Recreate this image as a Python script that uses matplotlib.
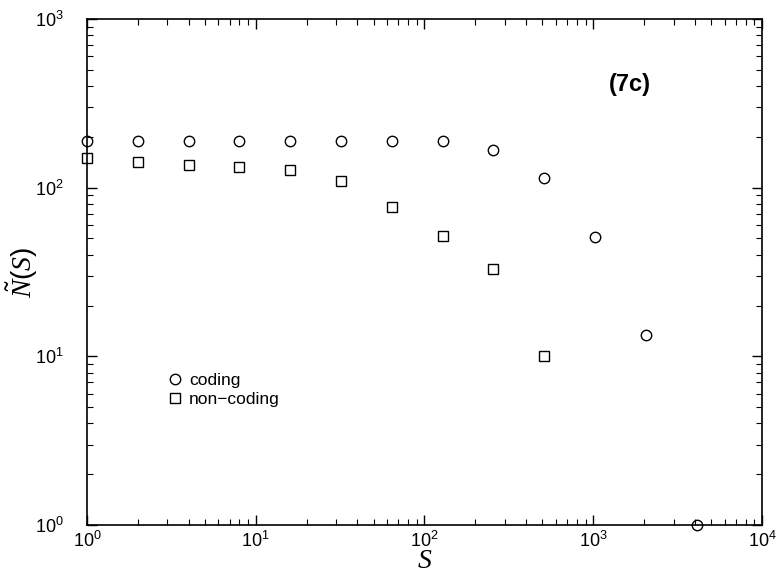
import numpy as np
import matplotlib.pyplot as plt
from matplotlib.ticker import LogLocator, FuncFormatter, NullFormatter

plt.rcParams['font.family'] = ['Liberation Sans', 'DejaVu Sans']
plt.rcParams['mathtext.fontset'] = 'custom'
plt.rcParams['mathtext.rm'] = 'Liberation Sans'
plt.rcParams['mathtext.it'] = 'Liberation Serif:italic'

# box sizes S and counts for each sequence class
s_coding = [1, 2, 4, 8, 16, 32, 64, 128, 256, 512, 1024, 2048, 4096]
n_coding = [190, 190, 190, 190, 190, 190, 190, 190, 168, 114, 51, 13.4, 1]

s_noncoding = [1, 2, 4, 8, 16, 32, 64, 128, 256, 512]
n_noncoding = [150, 142, 136, 132, 127, 109, 77, 52, 33, 10]

fig = plt.figure(figsize=(7.78, 5.74), dpi=100)
ax = fig.add_axes([0.1118, 0.0854, 0.8676, 0.8815])

ax.plot(s_coding, n_coding, 'o', ms=7.5, mfc='none', mec='black', mew=1.0,
        clip_on=False, label='coding')
ax.plot(s_noncoding, n_noncoding, 's', ms=6.5, mfc='none', mec='black', mew=1.0,
        clip_on=False, label='non\u2212coding')

ax.set_xscale('log')
ax.set_yscale('log')
ax.set_xlim(1, 1e4)
ax.set_ylim(1, 1e3)

fmt = FuncFormatter(lambda v, p: r'$\mathregular{10^{%d}}$' % round(np.log10(v)))
for axis in (ax.xaxis, ax.yaxis):
    axis.set_major_locator(LogLocator(base=10, numticks=10))
    axis.set_minor_locator(LogLocator(base=10, subs=np.arange(2, 10), numticks=10))
    axis.set_major_formatter(fmt)
    axis.set_minor_formatter(NullFormatter())

ax.tick_params(which='both', direction='in', top=True, right=True, labelsize=13)
ax.tick_params(which='major', length=7, width=1)
ax.tick_params(which='minor', length=4, width=0.8)
ax.tick_params(axis='x', pad=4)
ax.tick_params(axis='y', pad=17)
for sp in ax.spines.values():
    sp.set_linewidth(1.2)

ax.set_xlabel(r'$S$', fontsize=20)
ax.xaxis.set_label_coords(0.5, -0.046)
ax.set_ylabel(r'$\tilde{N}(S)$', fontsize=20)
ax.yaxis.set_label_coords(-0.07, 0.5)

ax.text(0.805, 0.87, '(7c)', transform=ax.transAxes, fontsize=17,
        fontweight='bold', ha='center', va='center')

ax.legend(loc='center left', bbox_to_anchor=(0.11, 0.267), frameon=False,
          fontsize=12.5, handlelength=0.8, handletextpad=0.4, labelspacing=0.2,
          borderaxespad=0)

fig.savefig('out.png', dpi=100)
